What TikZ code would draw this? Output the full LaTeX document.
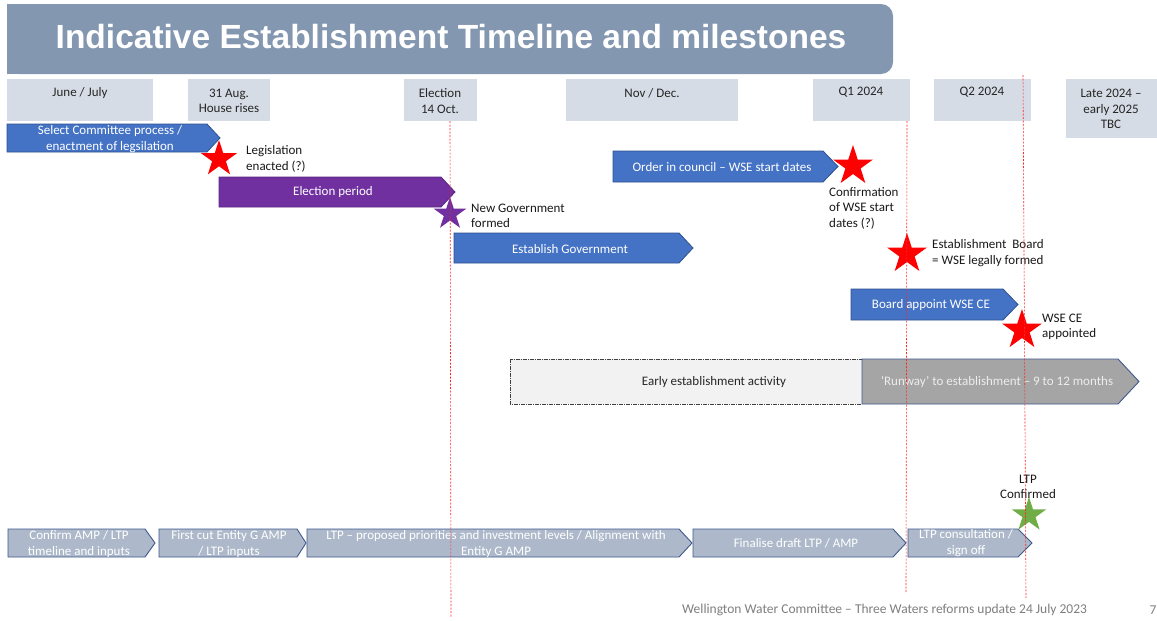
\documentclass[tikz,border=0pt]{standalone}
\usepackage{fontspec}
\setmainfont{Carlito}
\newfontfamily\titlefont{Liberation Sans}
\usetikzlibrary{shapes.geometric}
\definecolor{titlebg}{HTML}{8497B0}
\definecolor{hdrbg}{HTML}{D6DCE5}
\definecolor{bluefill}{HTML}{4472C4}
\definecolor{blueedge}{HTML}{2F528F}
\definecolor{purplefill}{HTML}{7030A0}
\definecolor{purpleedge}{HTML}{5A2683}
\definecolor{greyfill}{HTML}{ADB9CA}
\definecolor{greyedge}{HTML}{3E5A8C}
\definecolor{runfill}{HTML}{A5A5A5}
\definecolor{earlyfill}{HTML}{F2F2F2}
\definecolor{starred}{HTML}{FF0000}
\definecolor{stargreen}{HTML}{70AD47}
\definecolor{txtdark}{HTML}{262626}
\definecolor{footgrey}{HTML}{7F7F7F}
\newcommand\chev[6]{\path[#1] (#2,#5) -- (#3,#5) -- (#4,{(#5+#6)/2}) -- (#3,#6) -- (#2,#6) -- cycle;}
\tikzset{
  hdr/.style={fill=hdrbg, draw=none},
  hdrtxt/.style={text=txtdark, align=center, inner sep=0pt},
  bluearrow/.style={fill=bluefill, draw=blueedge, line width=0.8pt},
  purplearrow/.style={fill=purplefill, draw=purpleedge, line width=0.8pt},
  greyarrow/.style={fill=greyfill, draw=greyedge, line width=0.9pt},
  runarrow/.style={fill=runfill, draw=greyedge, line width=0.9pt},
  wtxt/.style={text=white, align=center, inner sep=0pt},
  lbl/.style={text=black!90, align=left, anchor=west, inner sep=0pt},
  mstar/.style={star, star points=5, star point ratio=2.618, inner sep=0pt, draw=none},
  redline/.style={draw=red!85, line width=0.6pt, dash pattern=on 2pt off 1.5pt},
}
\begin{document}
\begin{tikzpicture}[x=1pt, y=-1pt, font=\fontsize{13}{15.5}\selectfont]
\useasboundingbox (0,0) rectangle (1157,621);
\fill[white] (0,0) rectangle (1157,621);
% title bar
\fill[titlebg, rounded corners=12pt] (7,4) rectangle (893,74);
\fill[titlebg] (7,4) rectangle (100,74);
\node[text=white, inner sep=0pt] (title) at (451,37) {\titlefont\fontsize{33.5}{36}\selectfont\bfseries Indicative Establishment Timeline and milestones};
% header boxes
\fill[hdr] (7,79) rectangle (153,121);
\fill[hdr] (188,79) rectangle (270,121);
\fill[hdr] (404,79) rectangle (477,121);
\fill[hdr] (566,79) rectangle (738,121);
\fill[hdr] (813,79) rectangle (910,121);
\fill[hdr] (934,79) rectangle (1031,121);
\fill[hdr] (1066,79) rectangle (1157,138);
\node[hdrtxt] (h1) at (80,93) {June / July};
\node[hdrtxt] (h2) at (229,101) {31 Aug.\\House rises};
\node[hdrtxt] (h3) at (440,101) {Election\\14 Oct.};
\node[hdrtxt] (h4) at (652,93) {Nov / Dec.};
\node[hdrtxt] (h5) at (861,92) {Q1 2024};
\node[hdrtxt] (h6) at (982,92) {Q2 2024};
\node[hdrtxt] (h7) at (1111,109) {Late 2024 --\\early 2025\\TBC};
% arrows
\chev{bluearrow}{7}{207}{220}{124}{152}
\node[wtxt] (a1) at (110,139) {Select Committee process /\\enactment of legsilation};
\chev{purplearrow}{219}{441}{455}{177}{207}
\node[wtxt] (a2) at (333,192) {Election period};
\chev{bluearrow}{454}{679}{693}{233}{263}
\node[wtxt] (a3) at (570,249) {Establish Government};
\chev{bluearrow}{613}{823}{838}{151}{182}
\node[wtxt] (a4) at (722,167) {Order in council -- WSE start dates};
\chev{bluearrow}{851}{1003}{1018}{289}{320}
\node[wtxt] (a5) at (931,305) {Board appoint WSE CE};
% early / runway
\draw[fill=earlyfill, draw=black!75, line width=0.8pt, dash pattern=on 4pt off 1pt on 1pt off 1pt] (510,359) rectangle (862,404);
\node[text=txtdark, inner sep=0pt] (early) at (714,382) {Early establishment activity};
\chev{runarrow}{862}{1118}{1139}{359}{404}
\node[text=black!7, inner sep=0pt] (run) at (997,382) {‘Runway’ to establishment -- 9 to 12 months};
% bottom arrows
\chev{greyarrow}{8}{145}{155}{529}{557}
\node[wtxt] (b1) at (79,544) {Confirm AMP / LTP\\timeline and inputs};
\chev{greyarrow}{159}{297}{306}{529}{557}
\node[wtxt] (b2) at (229,544) {First cut Entity G AMP\\/ LTP inputs};
\chev{greyarrow}{307}{679}{692}{529}{557}
\node[wtxt] (b3) at (496,544) {LTP -- proposed priorities and investment levels / Alignment with\\Entity G AMP};
\chev{greyarrow}{693}{893}{906}{529}{557}
\node[wtxt] (b4) at (796,543) {Finalise draft LTP / AMP};
\chev{greyarrow}{908}{1018}{1032}{529}{557}
\node[wtxt] (b5) at (966,543) {LTP consultation /\\sign off};
% stars and labels
\node[mstar, fill=starred, minimum size=38pt] (s1) at (219,159) {};
\node[lbl] (l1) at (246,159) {Legislation\\enacted (?)};
\node[mstar, fill=purplefill, minimum size=34pt] (s2) at (450,214) {};
\node[lbl] (l2) at (471,216) {New Government\\formed};
\node[mstar, fill=starred, minimum size=42pt] (s3) at (853,166) {};
\node[lbl] (l3) at (829,208) {Confirmation\\of WSE start\\dates (?)};
\node[mstar, fill=starred, minimum size=42pt] (s4) at (907,254) {};
\node[lbl] (l4) at (932,253) {Establishment\ \ Board\\= WSE legally formed};
\node[mstar, fill=starred, minimum size=42pt] (s5) at (1022,330) {};
\node[lbl] (l5) at (1042,327) {WSE CE\\appointed};
\node[mstar, fill=stargreen, minimum size=36pt] (s6) at (1029,515) {};
\node[text=black!90, align=center, inner sep=0pt] (l6) at (1028,487) {LTP\\Confirmed};
% dashed red guide lines
\coordinate (v1t) at (450,121); \coordinate (v1b) at (451,617);
\coordinate (v2t) at (907,121); \coordinate (v2b) at (906,592);
\coordinate (v3t) at (1023,75); \coordinate (v3b) at (1026,598);
\draw[redline] (v1t) -- (v1b);
\draw[redline] (v2t) -- (v2b);
\draw[redline] (v3t) -- (v3b);
% footer
\node[text=footgrey, anchor=west, inner sep=0pt, font=\fontsize{13.5}{15}\selectfont] (foot) at (682,610) {Wellington Water Committee -- Three Waters reforms update 24 July 2023};
\node[text=footgrey, inner sep=0pt, font=\fontsize{13.5}{15}\selectfont] (pg) at (1153,610) {7};
\end{tikzpicture}
\end{document}
